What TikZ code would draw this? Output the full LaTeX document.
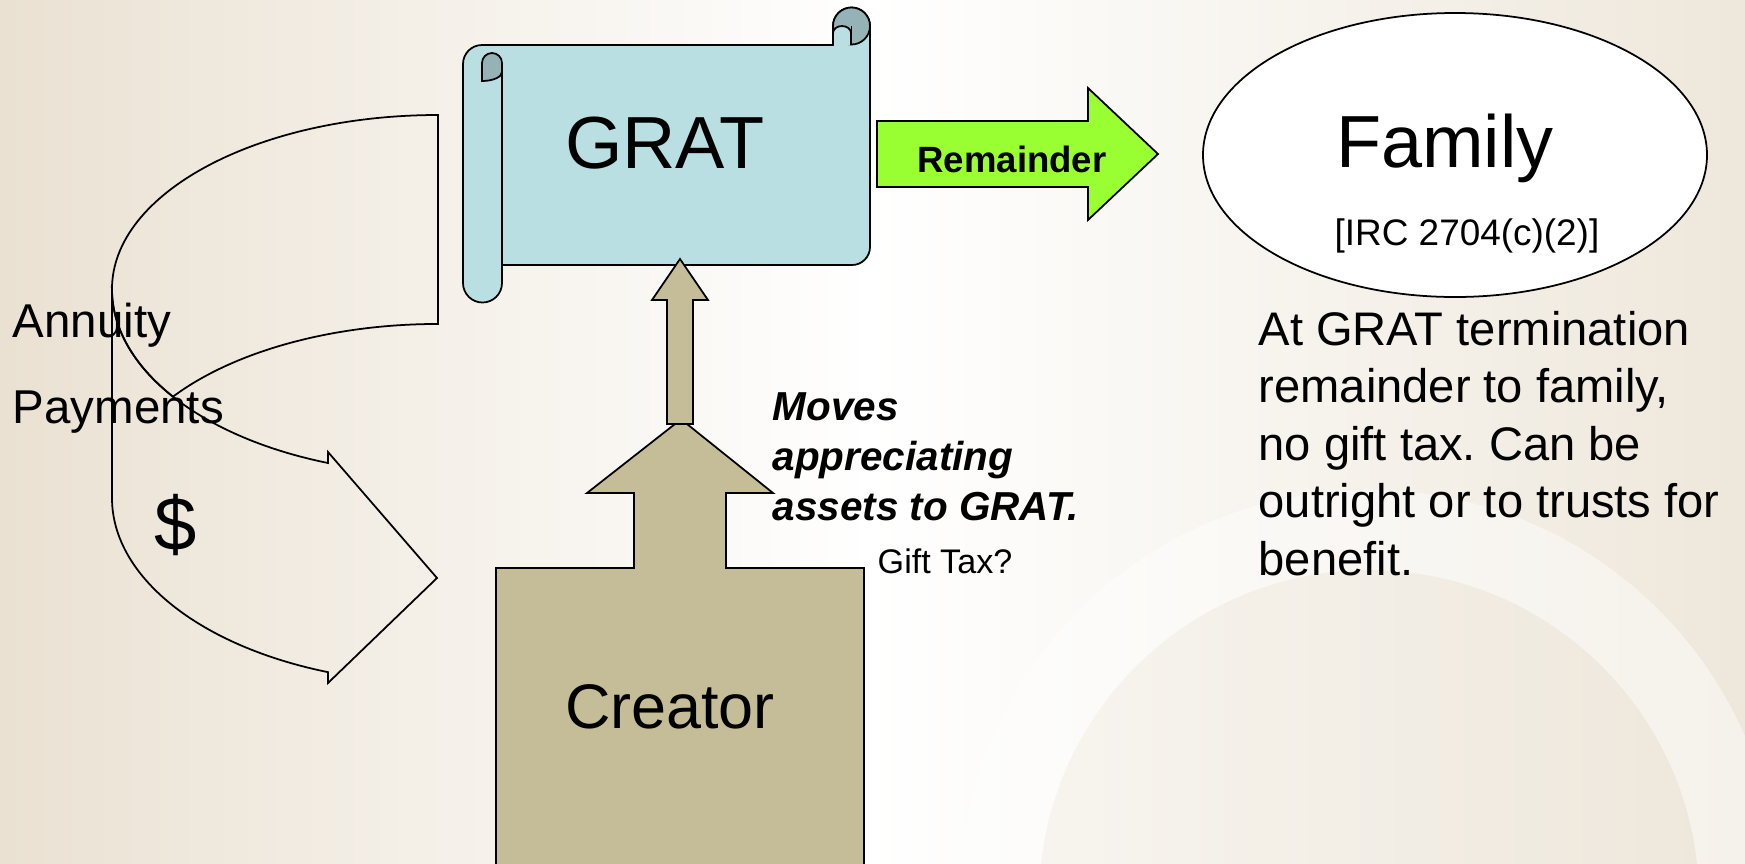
\documentclass[tikz,border=0pt]{standalone}
\usepackage{fontspec}
\setmainfont{Liberation Sans}
\frenchspacing
\usetikzlibrary{positioning}
\definecolor{scrollblue}{HTML}{B9DFE3}
\definecolor{scrolldark}{HTML}{95B2B6}
\definecolor{creatortan}{HTML}{C4BD97}
\definecolor{remgreen}{HTML}{99FF33}
\definecolor{bgleft}{HTML}{EAE1D2}
\definecolor{bgright}{HTML}{EEE7DB}
\tikzset{
  outline/.style={draw=black,line width=0.5pt,line join=miter},
  lbl/.style={inner sep=0pt,anchor=base west},
  ctr/.style={inner sep=0pt,anchor=base},
}
\begin{document}
\begin{tikzpicture}[x=0.01cm,y=-0.01cm]
	\useasboundingbox (0,0) rectangle (1745,863);
	\clip (0,0) rectangle (1745,863);
	\shade[left color=bgleft,right color=bgright,middle color=white] (0,0) rectangle (1745,863);
	\fill[bgright,opacity=0.3] (1369,900) circle[radius=330];
	\draw[white,opacity=0.45,line width=0.8cm] (1369,900) circle[radius=370];

	\draw[outline] (438,115) arc[start angle=270,end angle=180,x radius=326,y radius=174]
		arc[start angle=180,end angle=144.4,x radius=326,y radius=185]
		arc[start angle=215.6,end angle=270,x radius=326,y radius=174] -- cycle;
	\draw[outline] (112,289) -- (112,498)
		arc[start angle=180,end angle=109.7,x radius=326,y radius=185]
		-- (328,683) -- (437,578) -- (328,452) -- (328,463)
		arc[start angle=109.7,end angle=180,x radius=326,y radius=185] -- cycle;
	\node[lbl,font=\fontsize{13.5}{16}\selectfont] (annuity) at (12,337) {Annuity};
	\node[lbl,font=\fontsize{13.5}{16}\selectfont] (payments) at (12,423) {Payments};
	\node[inner sep=0pt,font=\fontsize{21.6}{26}\selectfont] (dollar) at (176,525) {\$};

	\draw[outline,fill=scrollblue] (463,64) arc[start angle=180,end angle=270,radius=19] -- (833,45) -- (833,26)
		arc[start angle=180,end angle=360,radius=18.5] -- (870,247) arc[start angle=0,end angle=90,radius=18]
		-- (502,265) -- (502,283) arc[start angle=0,end angle=180,radius=19.5] -- cycle;
	\draw[outline,fill=scrolldark] (851.5,26) circle[radius=18.5];
	\draw[outline,fill=scrollblue] (833,45) -- (833,33) arc[start angle=180,end angle=360,x radius=9,y radius=7] -- (851,45);
	\draw[outline] (851.5,26) -- (851.5,45);
	\draw[outline,fill=scrolldark] (482,81) -- (482,63) arc[start angle=180,end angle=360,radius=10] -- (502,72)
		arc[start angle=0,end angle=90,x radius=20,y radius=9] -- cycle;
	\draw[outline] (502,72) -- (502,265);
	\node[ctr,font=\fontsize{21}{25}\selectfont] (grat) at (665,168) {GRAT};

	\draw[outline,fill=remgreen] (877,121) -- (1088,121) -- (1088,88) -- (1158,154) -- (1088,220) -- (1088,187) -- (877,187) -- cycle;
	\node[ctr,font=\fontsize{10.4}{12}\selectfont\bfseries] (remainder) at (1012,172) {Remainder};

	\draw[outline,fill=white] (1455,155) ellipse[x radius=252,y radius=142];
	\node[ctr,font=\fontsize{21}{25}\selectfont] (family) at (1445,167) {Family};
	\node[ctr,font=\fontsize{10.5}{12}\selectfont] (irc) at (1467,245) {[IRC 2704(c)(2)]};
	\foreach \t [count=\i from 0] in {At GRAT termination,{remainder to family,},no gift tax. Can be,outright or to trusts for,benefit.}
		\node[lbl,font=\fontsize{13.4}{16}\selectfont] (note\i) at (1258,{345+57.5*\i}) {\t};

	\draw[outline,fill=creatortan] (496,875) -- (496,568) -- (634,568) -- (634,493) -- (587,493) -- (675,424)
		-- (687,424) -- (773,493) -- (726,493) -- (726,568) -- (864,568) -- (864,875);
	\draw[outline,fill=creatortan] (667,424) -- (667,300) -- (652,300) -- (680,259) -- (708,300) -- (693,300) -- (693,424) -- cycle;
	\node[ctr,font=\fontsize{17.9}{21}\selectfont] (creator) at (670,728) {Creator};
	\foreach \t [count=\i from 0] in {Moves,appreciating,assets to GRAT.}
		\node[lbl,font=\fontsize{11.5}{14}\selectfont\bfseries\itshape] (moves\i) at (772,{420+50*\i}) {\t};
	\node[lbl,font=\fontsize{9.7}{12}\selectfont] (gifttax) at (877,573) {Gift Tax?};
\end{tikzpicture}
\end{document}
